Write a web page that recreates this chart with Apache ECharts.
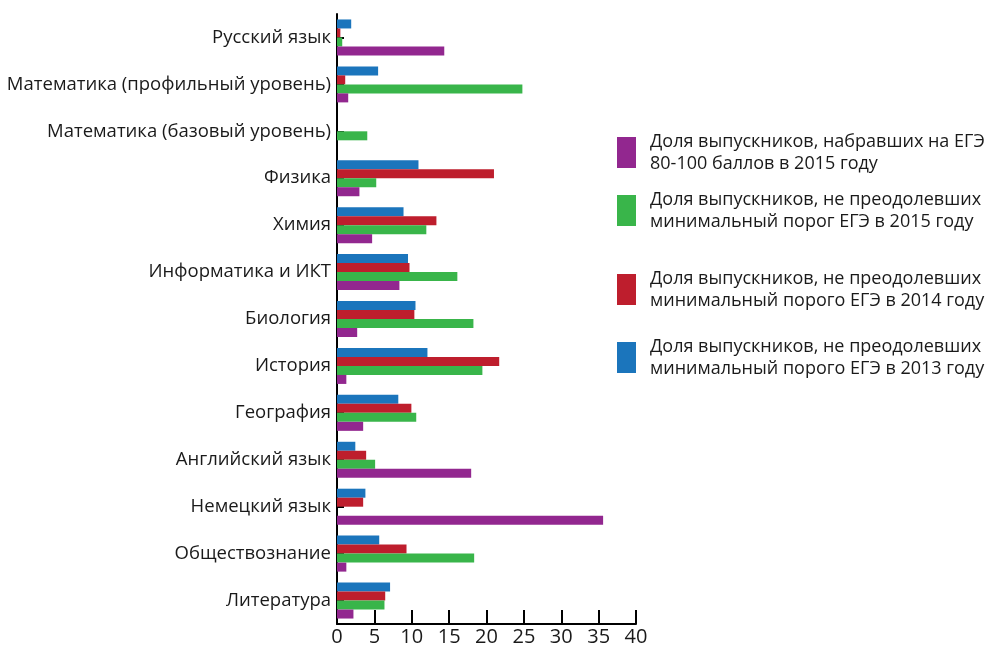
<!DOCTYPE html>
<html>
<head>
<meta charset="utf-8">
<script src="https://cdn.jsdelivr.net/npm/echarts@6/dist/echarts.min.js"></script>
<style>
html,body{margin:0;padding:0;background:#fff;}
#chart{width:994px;height:647px;}
</style>
</head>
<body>
<div id="chart"></div>
<script>
const categories = [
  'Русский язык',
  'Математика (профильный уровень)',
  'Математика (базовый уровень)',
  'Физика',
  'Химия',
  'Информатика и ИКТ',
  'Биология',
  'История',
  'География',
  'Английский язык',
  'Немецкий язык',
  'Обществознание',
  'Литература'
];
const xTicks = [0, 5, 10, 15, 20, 25, 30, 35, 40];

const name2013 = 'Доля выпускников, не преодолевших минимальный порого ЕГЭ в 2013 году';
const name2014 = 'Доля выпускников, не преодолевших минимальный порого ЕГЭ в 2014 году';
const nameFail2015 = 'Доля выпускников, не преодолевших минимальный порог ЕГЭ в 2015 году';
const nameTop2015 = 'Доля выпускников, набравших на ЕГЭ 80-100 баллов в 2015 году';

const fail2013 = [1.9, 5.5, 0, 10.9, 8.9, 9.5, 10.5, 12.1, 8.2, 2.45, 3.8, 5.65, 7.1];
const fail2014 = [0.45, 1.1, 0, 21.0, 13.3, 9.7, 10.35, 21.7, 9.95, 3.9, 3.5, 9.3, 6.45];
const fail2015 = [0.7, 24.8, 4.05, 5.25, 11.95, 16.1, 18.25, 19.45, 10.6, 5.1, 0, 18.35, 6.35];
const top2015 = [14.35, 1.5, 0, 3.0, 4.7, 8.35, 2.7, 1.25, 3.5, 17.95, 35.6, 1.25, 2.2];

const FONT = 'Open Sans';
const chart = echarts.init(document.getElementById('chart'), null, {renderer: 'canvas'});

function legendAt(top, name) {
  return {
    left: 617, top: top, orient: 'vertical', padding: 0,
    itemWidth: 19, itemHeight: 31, icon: 'rect',
    selectedMode: false,
    data: [name],
    formatter: function (n) {
      if (n === nameTop2015) return 'Доля выпускников, набравших на ЕГЭ\n80-100 баллов в 2015 году';
      const k = n.indexOf('минимальный');
      return n.slice(0, k - 1) + '\n' + n.slice(k);
    },
    textStyle: {fontFamily: FONT, fontSize: 18, color: '#1a1a1a', lineHeight: 22, padding: [0, 0, 0, 9]}
  };
}

function barSeries(name, data, color) {
  return {
    name: name, type: 'bar', data: data,
    barWidth: 9, barGap: '0%',
    itemStyle: {color: color},
    animation: false
  };
}

chart.setOption({
  animation: false,
  backgroundColor: '#fff',
  grid: {left: 337, right: 358, top: 14, bottom: 23, containLabel: false},
  legend: [
    legendAt(130.5, nameTop2015),
    legendAt(188.5, nameFail2015),
    legendAt(267.5, name2014),
    legendAt(335.5, name2013)
  ],
  xAxis: {
    type: 'value', min: xTicks[0], max: xTicks[xTicks.length - 1], interval: xTicks[1] - xTicks[0],
    splitLine: {show: false},
    axisLine: {show: true, lineStyle: {color: '#000', width: 2}},
    axisTick: {show: true, inside: true, length: 14, lineStyle: {color: '#000', width: 2}},
    axisLabel: {fontFamily: FONT, fontSize: 20, color: '#1a1a1a', margin: 3}
  },
  yAxis: {
    type: 'category', data: categories, inverse: true,
    axisLine: {show: true, lineStyle: {color: '#000', width: 2}},
    axisTick: {show: true, inside: true, alignWithLabel: true, length: 7, lineStyle: {color: '#000', width: 2}},
    axisLabel: {fontFamily: FONT, fontSize: 18.5, color: '#1a1a1a', margin: 6, padding: [3, 0, 0, 0]}
  },
  series: [
    barSeries(name2013, fail2013, '#1b75bc'),
    barSeries(name2014, fail2014, '#be1e2d'),
    barSeries(nameFail2015, fail2015, '#39b54a'),
    barSeries(nameTop2015, top2015, '#92278f')
  ]
});
</script>
</body>
</html>
